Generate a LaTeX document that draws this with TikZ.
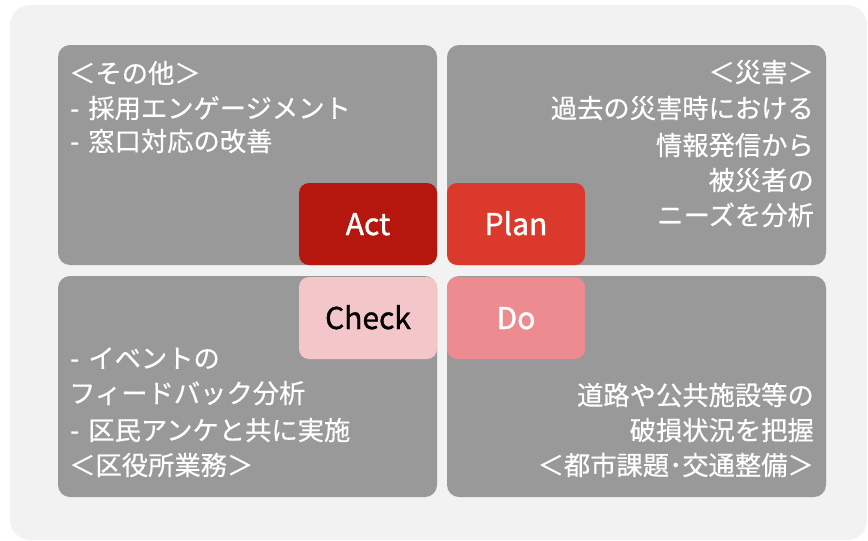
\documentclass[tikz,border=0pt]{standalone}
\usepackage{fontspec}
\setmainfont{Noto Sans CJK JP}
\newfontfamily\bodyfont[FakeBold=0.5]{Noto Sans CJK JP}
\newfontfamily\labelfont[FakeBold=1.2]{Noto Sans CJK JP}
\newcommand\dsh{-\hspace{9pt}}
\definecolor{bgc}{HTML}{F2F2F2}
\definecolor{boxc}{HTML}{999999}
\definecolor{actc}{HTML}{B5170F}
\definecolor{planc}{HTML}{DA392C}
\definecolor{checkc}{HTML}{F3C6CA}
\definecolor{doc}{HTML}{EC8C91}
\tikzset{
  graybox/.style={fill=boxc, rounded corners=12pt},
  pdcabox/.style={rounded corners=10pt},
  txt/.style={text=white, inner sep=0pt, font=\bodyfont\fontsize{26.3}{30}\selectfont},
  lbl/.style={inner sep=0pt, anchor=base, font=\labelfont\fontsize{30}{34}\selectfont},
}
\begin{document}
\begin{tikzpicture}[x=1pt,y=-1pt]
\useasboundingbox (0,0) rectangle (868,541);
\fill[bgc, rounded corners=20pt] (10,5) rectangle (867,540);
% quadrants
\fill[graybox] (58,45) rectangle (437,265);
\fill[graybox] (447,45) rectangle (826,265);
\fill[graybox] (58,276) rectangle (437,497);
\fill[graybox] (447,276) rectangle (826,497);
% PDCA boxes
\fill[pdcabox, actc] (299,183) rectangle (437,265);
\fill[pdcabox, planc] (447,183) rectangle (585,265);
\fill[pdcabox, checkc] (299,277) rectangle (437,359);
\fill[pdcabox, doc] (447,277) rectangle (585,359);
\node[lbl, text=white] (act) at (368,235) {Act};
\node[lbl, text=white] (plan) at (516,235) {Plan};
\node[lbl, text=black] (check) at (368,329) {Check};
\node[lbl, text=white] (do) at (516,329) {Do};
% top-left text
\node[txt, anchor=base west] (tl1) at (69,83) {＜その他＞};
\node[txt, anchor=base west] (tl2) at (70,118) {\dsh 採用エンゲージメント};
\node[txt, anchor=base west] (tl3) at (70,151) {\dsh 窓口対応の改善};
% top-right text
\node[txt, anchor=base east] (tr1) at (814,82) {＜災害＞};
\node[txt, anchor=base east] (tr2) at (814,118) {過去の災害時における};
\node[txt, anchor=base east] (tr3) at (814,155) {情報発信から};
\node[txt, anchor=base east] (tr4) at (814,190) {被災者の};
\node[txt, anchor=base east] (tr5) at (814,225) {ニーズを分析};
% bottom-left text
\node[txt, anchor=base west] (bl1) at (70,368) {\dsh イベントの};
\node[txt, anchor=base west] (bl2) at (69,403) {フィードバック分析};
\node[txt, anchor=base west] (bl3) at (70,440) {\dsh 区民アンケと共に実施};
\node[txt, anchor=base west] (bl4) at (69,475) {＜区役所業務＞};
% bottom-right text
\node[txt, anchor=base east] (br1) at (814,405) {道路や公共施設等の};
\node[txt, anchor=base east] (br2) at (814,440) {破損状況を把握};
\node[txt, anchor=base east] (br3) at (814,475) {＜都市課題･交通整備＞};
\end{tikzpicture}
\end{document}
